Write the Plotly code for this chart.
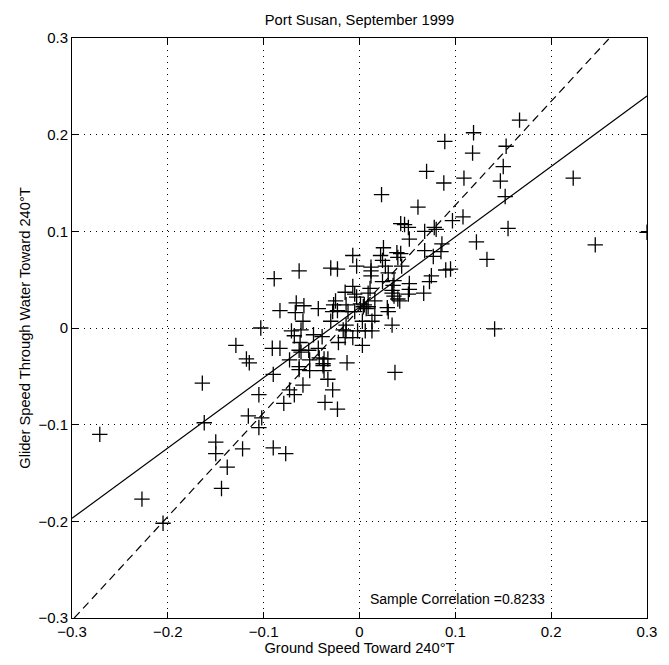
import plotly.graph_objects as go

# Data (m/s)
ground_speed = [
    0.167, 0.119, 0.089, 0.118, 0.153, 0.150, 0.147, 0.152, 0.155, 0.070,
    0.088, 0.109, 0.023, 0.061, 0.108, 0.097, 0.043, 0.047, 0.051, 0.068,
    0.078, 0.080, 0.052, 0.086, 0.068, 0.085, 0.122, 0.133, 0.077, 0.025,
    0.022, 0.024, 0.039, 0.043, 0.040, 0.044, -0.007, -0.003, 0.012, 0.012,
    0.012, 0.027, 0.030, -0.030, -0.023, -0.063, 0.075, 0.090, 0.095, 0.223,
    0.246, 0.300, 0.141, 0.073, 0.052, 0.052, 0.051, 0.067, 0.040, 0.042,
    0.034, 0.036, 0.029, 0.030, 0.034, 0.037, 0.036, 0.035, 0.034, -0.007,
    -0.015, -0.005, -0.003, 0.011, 0.024, 0.001, 0.004, 0.007, 0.005, 0.009,
    0.016, -0.025, -0.023, -0.014, -0.012, -0.066, -0.067, -0.058, -0.043, -0.083,
    -0.059, -0.028, -0.005, 0.003, 0.013, -0.030, -0.017, -0.014, -0.002, 0.006,
    0.013, -0.007, -0.015, -0.022, -0.071, -0.068, -0.061, -0.048, -0.039, 0.003,
    -0.083, -0.091, -0.062, -0.063, -0.061, -0.053, -0.043, -0.042, -0.037, -0.033,
    -0.038, -0.038, -0.037, -0.013, -0.052, -0.073, -0.063, -0.063, -0.052, -0.033,
    -0.059, -0.073, -0.068, -0.028, -0.036, -0.023, -0.079, -0.103, -0.089, -0.027,
    -0.014, 0.016, 0.009, -0.164, -0.129, -0.118, -0.115, -0.105, -0.116, -0.102,
    -0.105, -0.162, -0.150, -0.150, -0.122, -0.138, -0.144, -0.090, -0.077, -0.090,
    -0.271, -0.227, -0.205,
]
glider_speed = [
    0.215, 0.202, 0.193, 0.181, 0.188, 0.167, 0.152, 0.136, 0.103, 0.162,
    0.150, 0.155, 0.138, 0.125, 0.115, 0.111, 0.108, 0.107, 0.104, 0.100,
    0.104, 0.102, 0.092, 0.087, 0.080, 0.079, 0.089, 0.071, 0.074, 0.083,
    0.075, 0.070, 0.078, 0.077, 0.073, 0.064, 0.075, 0.064, 0.063, 0.059,
    0.054, 0.064, 0.057, 0.062, 0.061, 0.059, 0.054, 0.060, 0.061, 0.155,
    0.086, 0.099, -0.001, 0.048, 0.046, 0.040, 0.035, 0.036, 0.030, 0.028,
    0.036, 0.033, 0.021, 0.017, 0.003, -0.046, 0.049, 0.044, 0.039, 0.043,
    0.037, 0.035, 0.032, 0.041, 0.048, 0.025, 0.022, 0.020, 0.024, 0.022,
    0.028, 0.028, 0.018, 0.024, 0.017, 0.026, 0.016, 0.023, 0.020, 0.018,
    0.007, 0.017, 0.017, 0.007, 0.007, 0.007, -0.002, -0.003, -0.003, -0.003,
    -0.003, -0.010, -0.010, -0.015, -0.003, -0.008, -0.002, -0.007, -0.009, -0.018,
    -0.021, -0.021, -0.015, -0.023, -0.025, -0.023, -0.021, -0.031, -0.032, -0.032,
    -0.037, -0.039, -0.044, -0.036, -0.033, -0.033, -0.040, -0.043, -0.044, -0.053,
    -0.059, -0.064, -0.069, -0.064, -0.077, -0.084, -0.078, 0.000, 0.051, 0.024,
    0.003, 0.013, 0.036, -0.057, -0.018, -0.032, -0.036, -0.069, -0.091, -0.093,
    -0.103, -0.098, -0.118, -0.130, -0.125, -0.144, -0.166, -0.124, -0.130, -0.048,
    -0.110, -0.177, -0.202,
]

# Fitted lines
fit_slope = 0.728          # glider speed regressed on ground speed (solid)
fit_intercept = 0.0215
inv_slope = 1.074          # ground speed regressed on glider speed (dashed)
inv_intercept = 0.0197
correlation_text = "Sample Correlation =0.8233"

x_range = [-0.3, 0.3]
y_range = [-0.3, 0.3]
tick_vals = [-0.3, -0.2, -0.1, 0, 0.1, 0.2, 0.3]
tick_text = ["\u22120.3", "\u22120.2", "\u22120.1", "0", "0.1", "0.2", "0.3"]

TEXT_SIZE = 14.7
TICK_SIZE = 15

fig = go.Figure()

fig.add_trace(go.Scatter(
    x=ground_speed, y=glider_speed, mode="markers",
    marker=dict(symbol="cross-thin", size=11, color="black",
                line=dict(color="black", width=1.3)),
    showlegend=False, hoverinfo="x+y",
))

solid_x = x_range
solid_y = [fit_slope * v + fit_intercept for v in solid_x]
fig.add_trace(go.Scatter(x=solid_x, y=solid_y, mode="lines",
                         line=dict(color="black", width=1.2),
                         showlegend=False, hoverinfo="skip"))

dash_y = y_range
dash_x = [(v - inv_intercept) / inv_slope for v in dash_y]
fig.add_trace(go.Scatter(x=dash_x, y=dash_y, mode="lines",
                         line=dict(color="black", width=1.2, dash="8px,5px"),
                         showlegend=False, hoverinfo="skip"))

fig.add_annotation(x=0.009, y=-0.2805, xref="x", yref="y", text=correlation_text,
                   showarrow=False, xanchor="left", yanchor="middle",
                   font=dict(size=14, color="black"))

axis_common = dict(
    tickvals=tick_vals, ticktext=tick_text,
    showgrid=True, gridcolor="black", gridwidth=1, griddash="1px,5px",
    zeroline=False, showline=True, linecolor="black", linewidth=1,
    mirror="allticks", ticks="inside", ticklen=6, tickcolor="black",
    tickfont=dict(size=TICK_SIZE, color="black"),
)

fig.update_xaxes(**axis_common, range=x_range,
                 title=dict(text="Ground Speed Toward 240\u00b0T",
                            font=dict(size=TEXT_SIZE, color="black"), standoff=3))
fig.update_yaxes(**axis_common, range=y_range,
                 title=dict(text="Glider Speed Through Water Toward 240\u00b0T",
                            font=dict(size=TEXT_SIZE, color="black"), standoff=4))

fig.update_layout(
    width=669, height=665,
    margin=dict(l=72, r=13, t=38, b=43),
    paper_bgcolor="white", plot_bgcolor="white",
    font=dict(family="Liberation Sans, Arial, Helvetica, sans-serif", color="black"),
    title=dict(text="Port Susan, September 1999", x=0.5, xref="paper",
               xanchor="center", y=1 - 20 / 665, yanchor="middle",
               font=dict(size=TEXT_SIZE, color="black")),
)

fig.write_html("out.html", config={"displayModeBar": False},
               post_script="document.body.style.margin='0';document.body.style.overflow='hidden';")
